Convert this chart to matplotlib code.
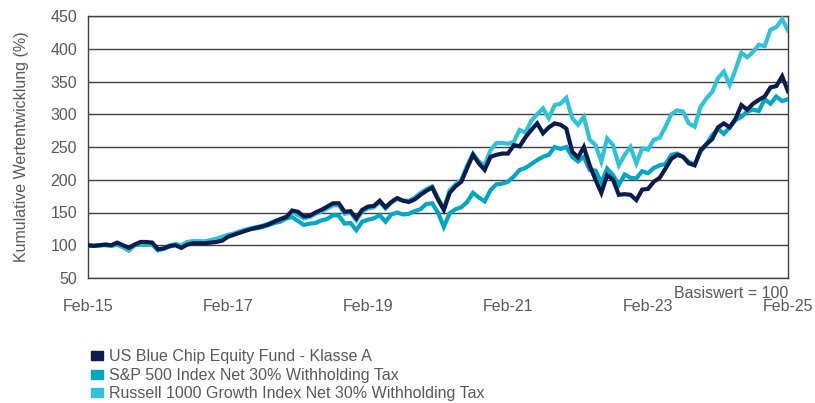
import matplotlib
matplotlib.use("Agg")
import matplotlib.pyplot as plt
import numpy as np

# monthly index values, Feb-15 .. Feb-25 (base = 100)
fund = [100, 99, 100, 101, 100, 104, 100, 96, 101, 105, 105, 104, 94, 95, 99, 100,
        96, 101, 103, 103, 103, 104, 105, 107, 113, 116, 119, 122, 125, 127, 129, 132,
        136, 140, 143, 153, 151, 144, 145, 150, 154, 159, 164, 164, 151, 152, 141, 154,
        159, 160, 168, 158, 166, 172, 168, 166, 170, 177, 183, 188, 170, 154, 180, 190,
        197, 218, 238, 225, 215, 235, 238, 240, 240, 253, 251, 265, 276, 286, 271, 280,
        286, 284, 278, 243, 234, 250, 222, 200, 180, 207, 200, 177, 178, 177, 169, 185,
        186, 197, 203, 217, 232, 238, 235, 225, 222, 245, 254, 262, 280, 286, 280, 293,
        314, 307, 316, 322, 327, 341, 343, 358, 335]
sp500 = [100, 99, 100, 100, 99, 101, 97, 92, 100, 101, 101, 101, 92, 95, 98, 101,
         99, 104, 106, 106, 105, 107, 109, 111, 115, 117, 121, 123, 125, 126, 128, 131,
         134, 136, 141, 143, 137, 131, 133, 134, 138, 140, 146, 145, 133, 134, 123, 136,
         139, 141, 146, 136, 147, 150, 147, 148, 152, 155, 163, 164, 150, 128, 149, 155,
         158, 166, 180, 173, 167, 184, 193, 194, 197, 205, 215, 218, 224, 230, 235, 238,
         250, 247, 250, 235, 228, 235, 215, 214, 196, 217, 207, 192, 208, 203, 202, 213,
         210, 218, 222, 224, 238, 240, 235, 227, 223, 243, 254, 268, 278, 270, 280, 291,
         296, 304, 307, 305, 323, 316, 327, 320, 323]
russell = [100, 99, 100, 101, 100, 103, 98, 93, 101, 103, 103, 102, 93, 95, 99, 102,
           100, 105, 106, 106, 106, 108, 110, 113, 116, 118, 121, 124, 126, 128, 130, 133,
           137, 140, 144, 151, 146, 141, 143, 148, 151, 156, 161, 161, 148, 150, 138, 152,
           156, 158, 166, 156, 165, 171, 168, 168, 173, 180, 186, 190, 172, 156, 184, 193,
           200, 222, 240, 228, 222, 245, 256, 256, 255, 258, 276, 272, 290, 300, 309, 294,
           314, 316, 325, 294, 284, 296, 261, 253, 228, 263, 253, 222, 238, 250, 225, 248,
           246, 261, 264, 281, 300, 306, 304, 286, 281, 311, 324, 334, 355, 365, 345, 368,
           394, 387, 395, 406, 404, 429, 433, 445, 428]

x_labels = ["Feb-15", "Feb-17", "Feb-19", "Feb-21", "Feb-23", "Feb-25"]
y_ticks = [50, 100, 150, 200, 250, 300, 350, 400, 450]
names = ["US Blue Chip Equity Fund - Klasse A",
         "S&P 500 Index Net 30% Withholding Tax",
         "Russell 1000 Growth Index Net 30% Withholding Tax"]

C_FUND, C_SP, C_RUS = "#0a1c4c", "#00a6c2", "#2ec3da"
GREY = "#595959"
FS = 11.5
plt.rcParams["font.family"] = ["Liberation Sans", "DejaVu Sans"]

months = np.arange(len(fund))
fig = plt.figure(figsize=(8.15, 4.03), dpi=100)
ax = fig.add_axes([88 / 815, 1 - 278 / 403, 700 / 815, 262 / 403])

ax.plot(months, sp500, color=C_SP, lw=3.0, solid_joinstyle="miter", zorder=3)
ax.plot(months, russell, color=C_RUS, lw=3.0, solid_joinstyle="miter", zorder=4)
ax.plot(months, fund, color=C_FUND, lw=3.0, solid_joinstyle="miter", zorder=5)

ax.set_xlim(0, 120)
ax.set_ylim(50, 450)
ax.set_yticks(y_ticks)
ax.set_xticks(np.arange(0, 121, 24))
ax.set_xticklabels(x_labels)
ax.yaxis.grid(True, color="#404040", lw=1.0)
ax.set_axisbelow(True)
ax.tick_params(length=0, labelsize=FS, colors=GREY)
ax.tick_params(axis="x", pad=15)
ax.tick_params(axis="y", pad=8)
for s in ax.spines.values():
    s.set_color("#404040")
    s.set_linewidth(1.0)
ax.set_ylabel("Kumulative Wertentwicklung (%)", fontsize=FS, color=GREY, labelpad=15)

fig.text(788 / 815, 1 - 294 / 403, "Basiswert = 100", ha="right", va="center",
         fontsize=FS, color=GREY)

handles = [plt.Rectangle((0, 0), 1, 1, color=c) for c in (C_FUND, C_SP, C_RUS)]
fig.legend(handles, names, loc="upper left", bbox_to_anchor=(85 / 815, 1 - 343 / 403),
           frameon=False, fontsize=FS, labelcolor=GREY, handlelength=0.7,
           handleheight=0.5, handletextpad=0.4, labelspacing=0.22, borderaxespad=0)

fig.savefig("out.png", dpi=100)
